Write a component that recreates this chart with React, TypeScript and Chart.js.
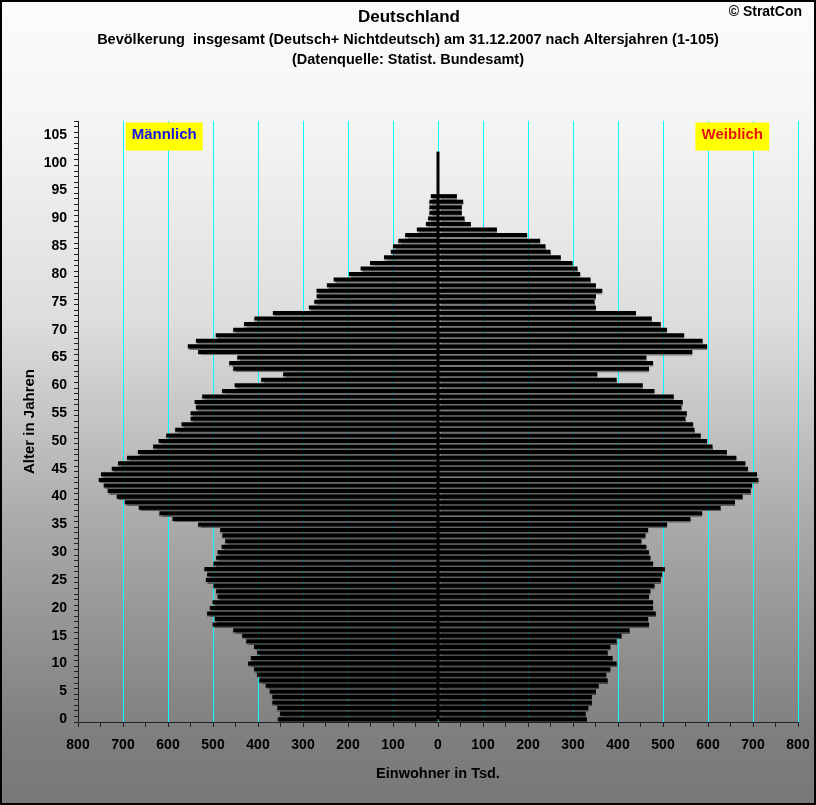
import React, { useEffect, useRef } from 'react';
import { Chart, registerables } from 'chart.js';

Chart.register(...registerables);

// Population in thousands, ages 0..94 (index = age)
const MALE = [
  356, 351, 357, 368, 368, 374, 383, 397, 402, 409,
  422, 416, 402, 409, 426, 435, 455, 501, 496, 513,
  507, 501, 490, 493, 499, 516, 513, 519, 499, 493,
  490, 481, 473, 479, 484, 533, 590, 619, 665, 696,
  714, 734, 743, 754, 749, 725, 711, 691, 667, 633,
  621, 604, 584, 570, 550, 550, 538, 541, 524, 480,
  452, 393, 344, 455, 464, 446, 533, 556, 538, 494,
  455, 431, 408, 367, 287, 275, 270, 270, 247, 232,
  198, 172, 151, 120, 105, 100, 88, 73, 47, 27,
  22, 19, 19, 19, 16,
];

const FEMALE = [
  331, 328, 334, 342, 342, 351, 357, 377, 374, 383,
  397, 388, 377, 383, 397, 408, 426, 469, 467, 484,
  478, 478, 469, 472, 481, 495, 498, 504, 478, 472,
  469, 463, 452, 461, 467, 509, 561, 587, 628, 660,
  677, 695, 698, 712, 709, 689, 683, 663, 642, 610,
  598, 584, 570, 567, 550, 553, 541, 544, 524, 481,
  455, 397, 354, 469, 478, 463, 565, 598, 588, 547,
  509, 495, 475, 440, 351, 348, 351, 365, 351, 339,
  316, 310, 299, 273, 250, 239, 227, 198, 131, 73,
  59, 53, 53, 56, 42,
];

const X_MIN = -800;
const X_MAX = 800;
const X_MINOR_STEP = 50;
const X_LABEL_STEP = 100;
const Y_MIN = 0;
const Y_MAX = 107;
const Y_LABEL_STEP = 5;
const Y_LABEL_MAX = 105;
const CENTER_LINE_TOP_AGE = 102;

const TITLE = 'Deutschland';
const SUBTITLE = 'Bevölkerung  insgesamt (Deutsch+ Nichtdeutsch) am 31.12.2007 nach Altersjahren (1-105)';
const SOURCE = '(Datenquelle: Statist. Bundesamt)';
const COPYRIGHT = '© StratCon';
const X_TITLE = 'Einwohner in Tsd.';
const Y_TITLE = 'Alter in Jahren';
const MALE_LABEL = 'Männlich';
const FEMALE_LABEL = 'Weiblich';

const FONT = '"Liberation Sans", Arial, sans-serif';

const decorPlugin = {
  id: 'decor',
  beforeDraw(chart: any) {
    const { ctx, width, height } = chart;
    ctx.save();
    const g = ctx.createLinearGradient(0, 0, 0, height);
    g.addColorStop(0, '#fcfcfc');
    g.addColorStop(0.15, '#f5f5f5');
    g.addColorStop(0.4, '#dddddd');
    g.addColorStop(0.65, '#aaaaaa');
    g.addColorStop(0.91, '#7f7f7f');
    g.addColorStop(1, '#787878');
    ctx.fillStyle = g;
    ctx.fillRect(0, 0, width, height);
    ctx.restore();
  },
  beforeDatasetsDraw(chart: any) {
    const { ctx } = chart;
    ctx.save();
    ctx.shadowColor = 'rgba(0,0,0,0.45)';
    ctx.shadowOffsetX = 0;
    ctx.shadowOffsetY = 1.5;
    ctx.shadowBlur = 1;
  },
  afterDatasetsDraw(chart: any) {
    const { ctx } = chart;
    ctx.restore();
    const xs = chart.scales.x;
    const ys = chart.scales.y;
    const x0 = xs.getPixelForValue(0);
    const yTop = ys.getPixelForValue(CENTER_LINE_TOP_AGE);
    const yBot = ys.getPixelForValue(0);
    ctx.save();
    ctx.fillStyle = '#000';
    ctx.fillRect(x0 - 1.5, yTop, 3, yBot - yTop);
    ctx.restore();
  },
  afterDraw(chart: any) {
    const { ctx, width, height } = chart;
    const xs = chart.scales.x;
    const ys = chart.scales.y;
    ctx.save();
    ctx.fillStyle = '#000';
    ctx.textAlign = 'center';
    ctx.textBaseline = 'middle';
    ctx.font = `bold 17px ${FONT}`;
    ctx.fillText(TITLE, width / 2 + 1, 17);
    ctx.font = `bold 14.5px ${FONT}`;
    ctx.fillText(SUBTITLE, width / 2, 40);
    ctx.fillText(SOURCE, width / 2, 60);
    ctx.textAlign = 'right';
    ctx.font = `bold 14px ${FONT}`;
    ctx.fillText(COPYRIGHT, 802, 12);

    // axis titles
    ctx.textAlign = 'center';
    ctx.font = `bold 14.5px ${FONT}`;
    ctx.fillText(X_TITLE, xs.getPixelForValue(0), 774);
    ctx.save();
    ctx.translate(30, (ys.top + ys.bottom) / 2);
    ctx.rotate(-Math.PI / 2);
    ctx.font = `bold 15px ${FONT}`;
    ctx.fillText(Y_TITLE, 0, 0);
    ctx.restore();

    // legend labels (yellow boxes)
    const boxTop = ys.top + 1.5;
    const boxH = 28;
    const drawBox = (label: string, leftVal: number, rightVal: number, color: string) => {
      const l = xs.getPixelForValue(leftVal);
      const r = xs.getPixelForValue(rightVal);
      ctx.fillStyle = '#ffff00';
      ctx.fillRect(l, boxTop, r - l, boxH);
      ctx.fillStyle = color;
      ctx.font = `bold 15px ${FONT}`;
      ctx.textAlign = 'center';
      ctx.fillText(label, (l + r) / 2, boxTop + boxH / 2 - 2);
    };
    drawBox(MALE_LABEL, -694, -523, '#1414e6');
    drawBox(FEMALE_LABEL, 572, 736, '#e61414');

    // outer frame
    ctx.strokeStyle = '#000';
    ctx.lineWidth = 2;
    ctx.strokeRect(1, 1, width - 2, height - 2);
    ctx.restore();
  },
};

export default function App() {
  const ref = useRef<HTMLCanvasElement>(null);

  useEffect(() => {
    document.body.style.margin = '0';
    const canvas = ref.current;
    if (!canvas) return;
    const chart = new Chart(canvas, {
      type: 'bar',
      data: {
        datasets: [
          {
            label: MALE_LABEL,
            data: MALE.map((v, age) => ({ x: -v, y: age })),
            backgroundColor: '#000000',
            borderWidth: 0,
            grouped: false,
            categoryPercentage: 1,
            barPercentage: 0.72,
          } as any,
          {
            label: FEMALE_LABEL,
            data: FEMALE.map((v, age) => ({ x: v, y: age })),
            backgroundColor: '#000000',
            borderWidth: 0,
            grouped: false,
            categoryPercentage: 1,
            barPercentage: 0.72,
          } as any,
        ],
      },
      options: {
        indexAxis: 'y',
        animation: false,
        responsive: false,
        devicePixelRatio: 1,
        layout: { padding: { top: 121, right: 18, left: 0, bottom: 0 } },
        plugins: {
          legend: { display: false },
          tooltip: { enabled: false },
          title: { display: false },
        },
        scales: {
          x: {
            type: 'linear',
            position: 'bottom',
            min: X_MIN,
            max: X_MAX,
            afterFit: (s: any) => {
              s.height = 83;
              s.paddingLeft = 0;
              s.paddingRight = 0;
            },
            ticks: {
              stepSize: X_MINOR_STEP,
              autoSkip: false,
              maxRotation: 0,
              padding: 10,
              color: '#000',
              font: { family: FONT, size: 14, weight: 'bold' },
              callback: (v: any) => (Number(v) % X_LABEL_STEP === 0 ? String(Math.abs(Number(v))) : ''),
            },
            grid: {
              color: (c: any) => {
                if (!c.tick) return 'rgba(0,0,0,0)';
                const n = Number(c.tick.value);
                return n % X_LABEL_STEP === 0 && n !== X_MIN ? '#00ffff' : 'rgba(0,0,0,0)';
              },
              lineWidth: 1,
              tickColor: '#222',
              tickLength: 5,
            },
            border: { color: '#222', width: 1 },
          },
          y: {
            type: 'linear',
            position: 'left',
            min: Y_MIN,
            max: Y_MAX,
            afterFit: (s: any) => {
              s.width = 78;
              s.paddingTop = 0;
              s.paddingBottom = 0;
            },
            ticks: {
              stepSize: 1,
              maxTicksLimit: 1000,
              autoSkip: false,
              padding: 7,
              color: '#000',
              font: { family: FONT, size: 14, weight: 'bold' },
              callback: (v: any) => {
                const n = Number(v);
                return n % Y_LABEL_STEP === 0 && n <= Y_LABEL_MAX ? String(n) : '';
              },
            },
            grid: {
              drawOnChartArea: false,
              tickColor: '#222',
              tickLength: 4,
            },
            border: { color: '#222', width: 1 },
          },
        },
      } as any,
      plugins: [decorPlugin],
    });
    return () => chart.destroy();
  }, []);

  return (
    <div style={{ width: 816, height: 805 }}>
      <canvas ref={ref} width={816} height={805} style={{ display: 'block', width: 816, height: 805 }} />
    </div>
  );
}
